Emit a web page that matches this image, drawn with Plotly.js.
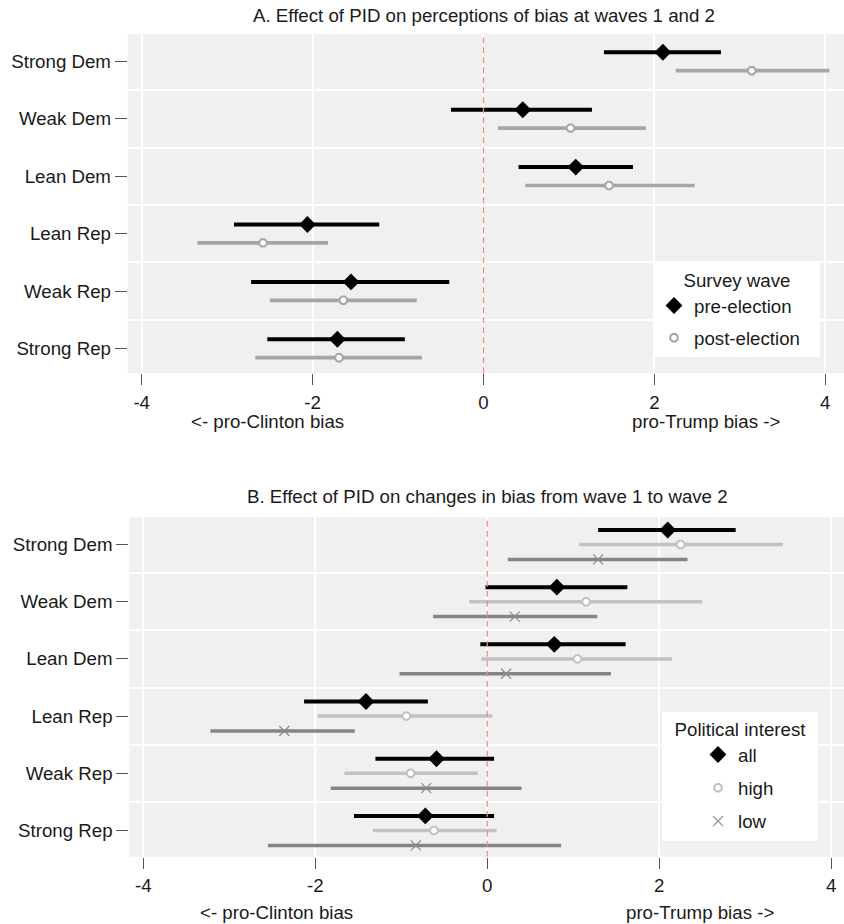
<!DOCTYPE html>
<html>
<head>
<meta charset="utf-8">
<script src="https://cdn.plot.ly/plotly-3.0.1.min.js"></script>
<style>html,body{margin:0;padding:0;background:#fff;}#chart{width:844px;height:924px;}</style>
</head>
<body>
<div id="chart"></div>
<script>
// ---- Data ----
const categories = ['Strong Dem', 'Weak Dem', 'Lean Dem', 'Lean Rep', 'Weak Rep', 'Strong Rep'];
const xTickVals = [-4, -2, 0, 2, 4];
const xTickText = ['-4', '-2', '0', '2', '4'];

// Panel A: Survey wave
const preEst = [2.10, 0.46, 1.08, -2.06, -1.55, -1.71];
const preLo  = [1.41, -0.38, 0.41, -2.92, -2.72, -2.53];
const preHi  = [2.78, 1.27, 1.75, -1.22, -0.40, -0.92];
const postEst = [3.14, 1.02, 1.47, -2.58, -1.64, -1.69];
const postLo  = [2.25, 0.17, 0.49, -3.35, -2.50, -2.67];
const postHi  = [4.05, 1.90, 2.47, -1.82, -0.78, -0.72];

// Panel B: Political interest
const allEst = [2.10, 0.81, 0.78, -1.41, -0.59, -0.72];
const allLo  = [1.29, -0.02, -0.08, -2.13, -1.30, -1.55];
const allHi  = [2.89, 1.63, 1.61, -0.69, 0.08, 0.08];
const highEst = [2.25, 1.15, 1.05, -0.94, -0.89, -0.62];
const highLo  = [1.07, -0.21, -0.07, -1.97, -1.66, -1.33];
const highHi  = [3.44, 2.50, 2.15, 0.06, -0.11, 0.11];
const lowEst = [1.29, 0.32, 0.22, -2.36, -0.71, -0.83];
const lowLo  = [0.24, -0.63, -1.02, -3.22, -1.82, -2.55];
const lowHi  = [2.33, 1.28, 1.44, -1.54, 0.40, 0.86];

// ---- Build ----
const FONT = 'Liberation Sans, Arial, sans-serif';
const FS = 18.7;
const TXT = '#1a1a1a';
const NB = '\u00a0';
const TS = '\u2009';
const idx = categories.map((c, i) => i);

function trace(est, lo, hi, off, name, xa, ya, legend, marker, color, thick, group) {
  return {
    type: 'scatter', mode: 'markers', name: name,
    x: est, y: idx.map(i => i + off),
    xaxis: xa, yaxis: ya, legend: legend, legendgroup: group,
    error_x: {
      type: 'data', symmetric: false,
      array: est.map((v, i) => hi[i] - v),
      arrayminus: est.map((v, i) => v - lo[i]),
      color: color, thickness: thick, width: 0
    },
    marker: marker,
    hoverinfo: 'x'
  };
}

const diamond = {symbol: 'diamond', size: 13, color: '#000000'};
const data = [
  trace(preEst, preLo, preHi, -0.16, 'pre-election', 'x', 'y', 'legend', diamond, '#000000', 4, 'a'),
  trace(postEst, postLo, postHi, 0.16, 'post-election' + NB + NB + TS, 'x', 'y', 'legend',
        {symbol: 'octagon', size: 8, color: '#ffffff', line: {color: '#a6a6a6', width: 2}}, '#a6a6a6', 3.7, 'b'),
  trace(allEst, allLo, allHi, -0.255, 'all', 'x2', 'y2', 'legend2', diamond, '#000000', 4, 'd'),
  trace(highEst, highLo, highHi, 0.0, 'high', 'x2', 'y2', 'legend2',
        {symbol: 'octagon', size: 8, color: '#ffffff', line: {color: '#c2c2c2', width: 2}}, '#c2c2c2', 3.5, 'e'),
  trace(lowEst, lowLo, lowHi, 0.26, 'low', 'x2', 'y2', 'legend2',
        {symbol: 'x-thin-open', size: 10, color: '#8a8a8a', line: {color: '#8a8a8a', width: 1.2}}, '#858585', 3.5, 'f')
];

const W = 844, H = 924;
const px = v => v / W;
const py = v => 1 - v / H;

function xaxis(domainLeft, range) {
  return {
    domain: [px(domainLeft), 1], range: range,
    tickmode: 'array', tickvals: xTickVals, ticktext: xTickText,
    showgrid: true, gridcolor: '#ffffff', gridwidth: 1.5,
    zeroline: false, showline: false,
    ticks: 'outside', ticklen: 11, tickwidth: 1, tickcolor: '#555555',
    ticklabelstandoff: 1,
    tickfont: {family: FONT, size: FS, color: TXT}, fixedrange: true
  };
}
function yaxis(top, bottom, range, anchor) {
  return {
    domain: [py(bottom), py(top)], range: range, anchor: anchor,
    tickmode: 'array', tickvals: idx, ticktext: categories,
    showgrid: false, zeroline: false, showline: false,
    ticks: 'outside', ticklen: 12, tickwidth: 1, tickcolor: '#555555',
    tickfont: {family: FONT, size: FS, color: TXT},
    minor: {tickmode: 'array', tickvals: idx.slice(0, -1).map(i => i + 0.5),
            showgrid: true, gridcolor: '#ffffff', gridwidth: 1.5, ticks: ''},
    fixedrange: true
  };
}

const layout = {
  width: W, height: H,
  margin: {l: 0, r: 0, t: 0, b: 0},
  paper_bgcolor: '#ffffff', plot_bgcolor: '#f0f0f0',
  font: {family: FONT, size: FS, color: TXT},
  xaxis: Object.assign(xaxis(127.7, [-4.164, 4.22]), {anchor: 'y'}),
  yaxis: yaxis(34, 373.3, [5.432, -0.479], 'x'),
  xaxis2: Object.assign(xaxis(129.3, [-4.163, 4.15]), {anchor: 'y2'}),
  yaxis2: yaxis(517.3, 856.7, [5.458, -0.476], 'x2'),
  showlegend: true,
  legend: {
    x: px(654), y: py(262.5), xanchor: 'left', yanchor: 'top',
    bgcolor: '#ffffff', borderwidth: 0,
    title: {text: 'Survey wave', side: 'top center', font: {family: FONT, size: FS, color: TXT}},
    font: {family: FONT, size: FS, color: TXT},
    tracegroupgap: 5, traceorder: 'grouped',
    itemclick: false, itemdoubleclick: false
  },
  legend2: {
    x: px(662), y: py(711.5), xanchor: 'left', yanchor: 'top',
    bgcolor: '#ffffff', borderwidth: 0,
    title: {text: NB + NB + 'Political interest' + NB + NB, side: 'top center', font: {family: FONT, size: FS, color: TXT}},
    font: {family: FONT, size: FS, color: TXT},
    tracegroupgap: 6, traceorder: 'grouped', indentation: 36,
    itemclick: false, itemdoubleclick: false
  },
  shapes: [
    {type: 'line', xref: 'x', yref: 'y domain', x0: 0, x1: 0, y0: 0, y1: 1,
     line: {color: '#f08a80', width: 1.3, dash: '6px,4px'}, layer: 'above'},
    {type: 'line', xref: 'x2', yref: 'y2 domain', x0: 0, x1: 0, y0: 0, y1: 1,
     line: {color: '#f08a80', width: 1.3, dash: '6px,4px'}, layer: 'above'}
  ],
  annotations: [
    {text: 'A. Effect of PID on perceptions of bias at waves 1 and 2', xref: 'paper', yref: 'paper',
     x: px(484), y: py(16), xanchor: 'center', yanchor: 'middle', showarrow: false,
     font: {family: FONT, size: FS, color: TXT}},
    {text: 'B. Effect of PID on changes in bias from wave 1 to wave 2', xref: 'paper', yref: 'paper',
     x: px(487), y: py(496), xanchor: 'center', yanchor: 'middle', showarrow: false,
     font: {family: FONT, size: FS, color: TXT}},
    {text: '&lt;- pro-Clinton bias', xref: 'x', yref: 'paper', x: -2.53, y: py(421),
     xanchor: 'center', yanchor: 'middle', showarrow: false, font: {family: FONT, size: FS, color: TXT}},
    {text: 'pro-Trump bias -&gt;', xref: 'x', yref: 'paper', x: 2.61, y: py(421),
     xanchor: 'center', yanchor: 'middle', showarrow: false, font: {family: FONT, size: FS, color: TXT}},
    {text: '&lt;- pro-Clinton bias', xref: 'x2', yref: 'paper', x: -2.45, y: py(912),
     xanchor: 'center', yanchor: 'middle', showarrow: false, font: {family: FONT, size: FS, color: TXT}},
    {text: 'pro-Trump bias -&gt;', xref: 'x2', yref: 'paper', x: 2.47, y: py(912),
     xanchor: 'center', yanchor: 'middle', showarrow: false, font: {family: FONT, size: FS, color: TXT}}
  ]
};

Plotly.newPlot('chart', data, layout, {displayModeBar: false, staticPlot: false, responsive: false});
</script>
</body>
</html>
